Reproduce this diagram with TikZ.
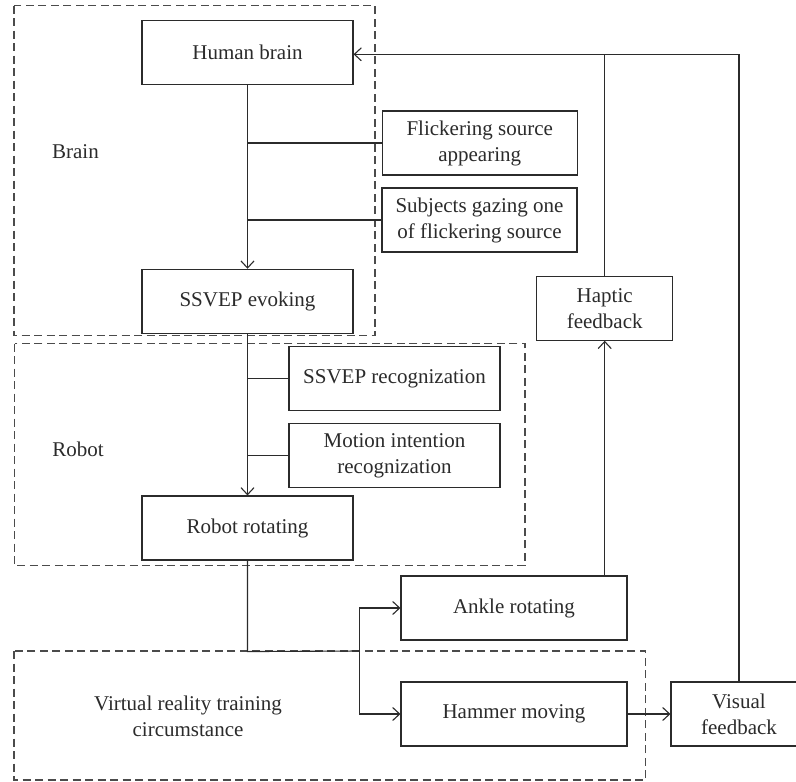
\documentclass[tikz,border=0pt]{standalone}
\usepackage{fontspec}
\setmainfont{Liberation Serif}
\usetikzlibrary{arrows.meta,calc}
\definecolor{ink}{HTML}{2B2B2B}
\begin{document}
\begin{tikzpicture}[x=1pt,y=-1pt,
  box/.style={draw=ink, line width=1.1pt, fill=white, minimum width=211pt, minimum height=64pt,
    inner sep=0pt, align=center, font=\fontsize{21}{26}\selectfont, text=ink},
  grp/.style={draw=ink!85, line width=1.1pt, dash pattern=on 8pt off 4.5pt},
  conn/.style={draw=ink, line width=1.1pt},
  arr/.style={conn, -{Straight Barb[length=7pt,width=13pt,line width=1.1pt]}},
  lbl/.style={align=center, font=\fontsize{21}{26}\selectfont, text=ink}]
\useasboundingbox (0,0) rectangle (796,782);

% group frames
\draw[grp] (14,5.7) rectangle (375,335.7);
\draw[grp] (14.5,343.5) rectangle (525,565.7);
\draw[grp] (14,651) rectangle (645.5,780);

% group labels
\node[lbl] (lb) at (75.5,151.5) {Brain};
\node[lbl] (lr) at (78,449) {Robot};
\node[lbl] (lv) at (188,716) {Virtual reality training\\circumstance};

% nodes
\node[box] (hb) at (247.5,52.7) {Human brain};
\node[box, minimum width=195pt] (fl) at (479.7,143) {Flickering source\\appearing};
\node[box, minimum width=195pt] (sg) at (479.5,220) {Subjects gazing one\\of flickering source};
\node[box] (se) at (247.5,301.3) {SSVEP evoking};
\node[box] (sr) at (394.5,378.5) {SSVEP recognization};
\node[box] (mi) at (394.5,455.7) {Motion intention\\recognization};
\node[box] (rr) at (247.5,528) {Robot rotating};
\node[box, minimum width=226pt] (ar) at (514,608) {Ankle rotating};
\node[box, minimum width=226pt] (hm) at (514,714) {Hammer moving};
\node[box, minimum width=136pt] (hf) at (604.7,308.2) {Haptic\\feedback};
\node[box, minimum width=136pt] (vf) at (739,714) {Visual\\feedback};

% connectors
\draw[arr] (hb) -- (se);
\draw[conn] (hb.south |- fl.west) -- (fl.west);
\draw[conn] (hb.south |- sg.west) -- (sg.west);
\draw[arr] (se) -- (rr);
\draw[conn] (se.south |- sr.west) -- (sr.west);
\draw[conn] (se.south |- mi.west) -- (mi.west);

\coordinate (bend) at ($(rr.south)+(0,91)$);
\coordinate (split) at (359.3,651);
\draw[conn] (rr.south) -- (bend) -- (split);
\draw[arr] (split) |- (ar.west);
\draw[arr] (split) |- (hm.west);
\draw[arr] (hm) -- (vf);
\draw[arr] (hf.south |- ar.north) -- (hf.south);

\coordinate (top) at (739,54.3);
\draw[conn] (vf.north) -- (top);
\draw[conn] (hf.north) -- (hf.north |- top);
\draw[arr] (top) -- (hb.east |- top);
\end{tikzpicture}
\end{document}
